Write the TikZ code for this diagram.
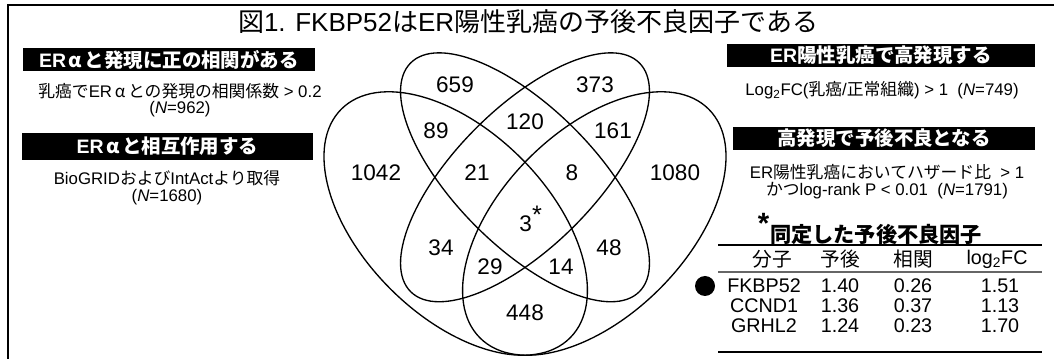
\documentclass[tikz,border=0pt]{standalone}
\usepackage{fontspec}
\setmainfont{Liberation Sans}
\newfontfamily\jp{Noto Sans CJK JP}
\newcommand{\J}[1]{{\jp #1}}
\newcommand{\al}{{\jp\makebox[0.95em]{α}}}
\begin{document}
\begin{tikzpicture}[x=0.75pt,y=-0.75pt,
  hdr/.style={fill=black,text=white,minimum height=17.25pt,inner sep=0pt,font=\fontsize{14.6}{15}\selectfont\bfseries},
  sub/.style={align=center,font=\fontsize{12.6}{12.4}\selectfont,inner sep=0pt},
  num/.style={font=\fontsize{16.9}{18}\selectfont,inner sep=0pt},
  tab/.style={font=\fontsize{14.8}{16}\selectfont,inner sep=0pt},
  venn/.style={line width=1pt},
  frame/.style={line width=1.6pt}]
\useasboundingbox (0,0) rectangle (1054,359);
% frame
\coordinate (f1) at (8,359);
\coordinate (f2) at (8,5);
\coordinate (f3) at (1054,5);
\draw[frame] (f1) -- (f2) -- (f3);
% title
\node[font=\fontsize{19.5}{21}\selectfont,inner sep=0pt] (title) at (528,22) {\J{図}1. FKBP52\J{は}ER\J{陽性乳癌の予後不良因子である}};
% left headers
\node[hdr,minimum width=219pt] (h1) at (169,59.5) {ER\al\J{と発現に正の相関がある}};
\node[sub] (s1) at (180,100) {\J{乳癌で}ER\al\J{との発現の相関係数} > 0.2\\(\textit{N}=962)};
\node[hdr,minimum width=218.25pt,minimum height=20pt] (h2) at (167.5,146.5) {ER\al\J{と相互作用する}};
\node[sub] (s2) at (167,187.5) {BioGRID\J{および}IntAct\J{より取得}\\(\textit{N}=1680)};
% right headers
\node[hdr,minimum width=231pt] (h3) at (881,55.5) {ER\J{陽性乳癌で高発現する}};
\node[sub] (s3) at (882,90) {Log\textsubscript{2}FC(\J{乳癌}/\J{正常組織}) > 1 \ (\textit{N}=749)};
\node[hdr,minimum width=226.5pt] (h4) at (884,138.5) {\J{高発現で予後不良となる}};
\node[sub] (s4) at (887,181.5) {ER\J{陽性乳癌においてハザード比} \ > 1\\\J{かつ}log-rank P < 0.01 \ (\textit{N}=1791)};
% venn
\coordinate (cA) at (455.7,223.5);
\coordinate (cB) at (525,177.3);
\coordinate (cC) at (525,177.3);
\coordinate (cD) at (594.3,223.5);
\draw[venn, rotate around={-45:(cA)}] (cA) ellipse [x radius=121.3pt, y radius=69.3pt];
\draw[venn, rotate around={-45:(cB)}] (cB) ellipse [x radius=121.3pt, y radius=52pt];
\draw[venn, rotate around={45:(cC)}] (cC) ellipse [x radius=121.3pt, y radius=52pt];
\draw[venn, rotate around={45:(cD)}] (cD) ellipse [x radius=121.3pt, y radius=69.3pt];
\node[num] (n659) at (455,85) {659};
\node[num] (n373) at (595,85) {373};
\node[num] (n89) at (436,131) {89};
\node[num] (n120) at (525,122) {120};
\node[num] (n161) at (613,131) {161};
\node[num] (n1042) at (376,173) {1042};
\node[num] (n21) at (477,173) {21};
\node[num] (n8) at (572,173) {8};
\node[num] (n1080) at (675,173) {1080};
\node[num] (n3) at (531,219) {3\textsuperscript{\fontsize{19}{19}\selectfont *}};
\node[num] (n34) at (441,248) {34};
\node[num] (n48) at (609,248) {48};
\node[num] (n29) at (490,267) {29};
\node[num] (n14) at (561,267) {14};
\node[num] (n448) at (525,313) {448};
% table
\node[font=\fontsize{15.9}{17}\selectfont\bfseries,inner sep=0pt] (tt) at (870,229) {\textsuperscript{\fontsize{22}{22}\selectfont *}\J{同定した予後不良因子}};
\coordinate (r1a) at (718,245); \coordinate (r1b) at (1042,245);
\coordinate (r2a) at (718,272); \coordinate (r2b) at (1042,272);
\coordinate (r3a) at (718,352); \coordinate (r3b) at (1042,352);
\draw[line width=1.5pt] (r1a) -- (r1b);
\draw[line width=1.1pt,black!60] (r2a) -- (r2b);
\draw[line width=1.5pt] (r3a) -- (r3b);
\node[tab] (c1) at (772,259) {\J{分子}};
\node[tab] (c2) at (840,259) {\J{予後}};
\node[tab] (c3) at (913,259) {\J{相関}};
\node[tab] (c4) at (997,259) {log\textsubscript{2}FC};
\node[tab] (a1) at (764,286) {FKBP52};
\node[tab] (a2) at (840,286) {1.40};
\node[tab] (a3) at (913,286) {0.26};
\node[tab] (a4) at (1000,286) {1.51};
\node[tab] (b1) at (764,306) {CCND1};
\node[tab] (b2) at (840,306) {1.36};
\node[tab] (b3) at (913,306) {0.37};
\node[tab] (b4) at (1000,306) {1.13};
\node[tab] (g1) at (764,326) {GRHL2};
\node[tab] (g2) at (840,326) {1.24};
\node[tab] (g3) at (913,326) {0.23};
\node[tab] (g4) at (1000,326) {1.70};
\node[circle,fill=black,minimum size=15pt,inner sep=0pt] (dot) at (705,286) {};
\end{tikzpicture}
\end{document}
